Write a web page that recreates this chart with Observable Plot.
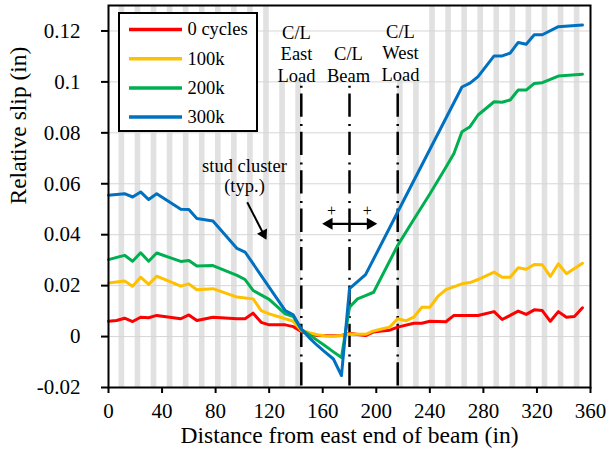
<!DOCTYPE html>
<html>
<head>
<meta charset="utf-8">
<script src="https://cdn.jsdelivr.net/npm/d3@7"></script>
<script src="https://cdn.jsdelivr.net/npm/@observablehq/plot@0.6"></script>
<style>
  html, body { margin: 0; padding: 0; background: #fff; }
  #chart svg { display: block; font-family: "Liberation Serif", "Times New Roman", serif; }
  #chart svg text { font-family: "Liberation Serif", "Times New Roman", serif; }
</style>
</head>
<body>
<div id="chart"></div>
<script>
// Relative slip along the beam after 0, 100k, 200k and 300k load cycles
const seriesNames = ["0 cycles", "100k", "200k", "300k"];
const seriesColors = ["#ff0000", "#ffc000", "#00b050", "#0070c0"];

const slip0X = [0, 6, 12, 18, 24, 30, 36, 54, 60, 66, 78, 96, 102, 108, 114, 120, 132, 138, 144, 150, 156, 168, 174, 180, 186, 192, 198, 204, 210, 216, 228, 234, 240, 252, 258, 276, 288, 294, 300, 306, 312, 318, 324, 330, 336, 342, 348, 354];
const slip0Y = [0.0060, 0.0063, 0.0072, 0.0059, 0.0076, 0.0074, 0.0083, 0.0070, 0.0085, 0.0063, 0.0076, 0.0070, 0.0070, 0.0092, 0.0056, 0.0046, 0.0046, 0.0039, 0.0020, 0.0010, 0.0004, 0.0003, 0.0004, 0.0013, 0.0008, 0.0004, 0.0018, 0.0022, 0.0025, 0.0037, 0.0052, 0.0052, 0.0060, 0.0058, 0.0083, 0.0083, 0.0098, 0.0067, 0.0083, 0.0100, 0.0087, 0.0105, 0.0102, 0.0060, 0.0098, 0.0076, 0.0079, 0.0113];

const slip100X = [0, 12, 18, 24, 30, 36, 54, 60, 66, 78, 96, 108, 114, 120, 132, 138, 144, 150, 156, 162, 168, 174, 180, 192, 198, 204, 210, 216, 222, 228, 234, 240, 246, 252, 264, 270, 276, 288, 294, 300, 306, 312, 318, 324, 330, 336, 342, 354];
const slip100Y = [0.0210, 0.0218, 0.0198, 0.0233, 0.0205, 0.0237, 0.0198, 0.0207, 0.0184, 0.0188, 0.0155, 0.0148, 0.0102, 0.0089, 0.0070, 0.0060, 0.0024, 0.0015, 0.0007, 0.0002, 0.0001, 0.0004, 0.0010, 0.0009, 0.0022, 0.0030, 0.0037, 0.0070, 0.0062, 0.0076, 0.0115, 0.0115, 0.0158, 0.0184, 0.0207, 0.0212, 0.0224, 0.0253, 0.0233, 0.0233, 0.0270, 0.0264, 0.0283, 0.0282, 0.0236, 0.0286, 0.0247, 0.0288];

const slip200X = [0, 12, 18, 24, 30, 36, 54, 60, 66, 78, 96, 102, 108, 120, 132, 138, 144, 150, 156, 162, 168, 174, 180, 186, 192, 198, 216, 228, 240, 252, 258, 264, 270, 276, 288, 294, 300, 306, 312, 318, 324, 336, 354];
const slip200Y = [0.0302, 0.0319, 0.0296, 0.0329, 0.0296, 0.0328, 0.0295, 0.0299, 0.0277, 0.0279, 0.0240, 0.0224, 0.0181, 0.0146, 0.0089, 0.0079, 0.0028, 0.0007, -0.0015, -0.0037, -0.0060, -0.0082, 0.0115, 0.0148, 0.0161, 0.0174, 0.0358, 0.0460, 0.0560, 0.0665, 0.0719, 0.0804, 0.0824, 0.0870, 0.0922, 0.0920, 0.0929, 0.0968, 0.0968, 0.0994, 0.0997, 0.1023, 0.1030];

const slip300X = [0, 12, 18, 24, 30, 36, 54, 60, 66, 78, 96, 102, 132, 138, 144, 150, 156, 162, 168, 174, 180, 192, 216, 264, 270, 276, 288, 294, 300, 306, 312, 318, 324, 336, 354];
const slip300Y = [0.0555, 0.0561, 0.0548, 0.0568, 0.0538, 0.0561, 0.0500, 0.0499, 0.0464, 0.0454, 0.0346, 0.0332, 0.0102, 0.0085, 0.0030, -0.0005, -0.0035, -0.0062, -0.0088, -0.0153, 0.0188, 0.0243, 0.0489, 0.0980, 0.0995, 0.1021, 0.1102, 0.1102, 0.1113, 0.1155, 0.1148, 0.1185, 0.1185, 0.1217, 0.1223];

// Stud cluster locations (shaded bands) and load / beam centerlines
const studClusters = [10, 22, 34, 46, 58, 70, 82, 94, 106, 118, 130, 142, 218, 230, 242, 254, 266, 278, 290, 302, 314, 326, 338, 350];
const centerLines = [144, 180, 216];

const xTicks = [0, 40, 80, 120, 160, 200, 240, 280, 320, 360];
const yTicks = [-0.02, 0, 0.02, 0.04, 0.06, 0.08, 0.1, 0.12];

const seriesX = [slip0X, slip100X, slip200X, slip300X];
const seriesY = [slip0Y, slip100Y, slip200Y, slip300Y];
const rows = [];
seriesNames.forEach((name, s) => {
  seriesX[s].forEach((x, i) => rows.push({series: name, x, y: seriesY[s][i]}));
});

// Frame geometry
const W = 616, H = 456, mL = 108, mR = 26, mT = 5, mB = 69;
const X0 = 0, X1 = 360, Y0 = -0.02, Y1 = 0.13;
// Convert pixel placements of annotations into data coordinates
const px = p => X0 + (p - mL) * (X1 - X0) / (W - mL - mR);
const py = p => Y1 - (p - mT) * (Y1 - Y0) / (H - mT - mB);

const serif = "'Liberation Serif', 'Times New Roman', serif";
const legendRowY = i => py(29 + i * 29.2);
const txt = {fill: "black", fontFamily: serif};

const chart = Plot.plot({
  width: W,
  height: H,
  marginLeft: mL,
  marginRight: mR,
  marginTop: mT,
  marginBottom: mB,
  style: {fontFamily: serif, color: "black", background: "white"},
  x: {domain: [X0, X1]},
  y: {domain: [Y0, Y1]},
  color: {domain: seriesNames, range: seriesColors},
  marks: [
    // stud cluster bands
    Plot.rect(studClusters, {x1: d => d - 2.1, x2: d => d + 2.1, y1: () => Y0, y2: () => Y1, fill: "#e1e1e1"}),
    // blank area behind the centerline labels
    Plot.rect([0], {x1: () => px(271), x2: () => px(428), y1: () => py(80), y2: () => Y1, fill: "white"}),
    // horizontal gridlines
    Plot.ruleY(yTicks.filter(v => v > Y0), {stroke: "#d6d6d6", strokeWidth: 1}),
    // dash-dot centerlines
    Plot.ruleX(centerLines, {y1: () => py(85.7), y2: () => Y0, stroke: "black", strokeWidth: 2.5, strokeDasharray: "2,5.7,23.3,7.4"}),
    // slip profiles
    Plot.line(rows, {x: "x", y: "y", z: "series", stroke: "series", strokeWidth: 3, strokeLinejoin: "round"}),
    Plot.frame({stroke: "black", strokeWidth: 2}),
    Plot.axisX({ticks: xTicks, tickSize: 6, tickPadding: 10, fontSize: 21, fontFamily: serif, strokeWidth: 2, label: null, tickFormat: d => String(d)}),
    Plot.axisY({ticks: yTicks, tickSize: 7, tickPadding: 21, fontSize: 21, fontFamily: serif, strokeWidth: 2, label: null, tickFormat: d => String(+d.toFixed(2))}),
    // axis titles
    Plot.text(["Relative slip (in)"], {...txt, frameAnchor: "left", dx: -90, dy: 8, rotate: -90, fontSize: 23.5}),
    Plot.text(["Distance from east end of beam (in)"], {...txt, frameAnchor: "bottom", dy: 55, fontSize: 23.5}),
    // legend
    Plot.rect([0], {x1: () => px(119), x2: () => px(257), y1: () => py(131), y2: () => py(13), fill: "white", stroke: "black", strokeWidth: 2}),
    Plot.ruleY(seriesNames, {y: (d, i) => legendRowY(i), x1: () => px(129), x2: () => px(182), stroke: d => d, strokeWidth: 3.5}),
    Plot.text(seriesNames, {...txt, x: () => px(187), y: (d, i) => legendRowY(i), text: d => d, textAnchor: "start", fontSize: 18.5}),
    // centerline labels
    Plot.text(["C/L\nEast\nLoad"], {...txt, x: () => px(296), y: () => py(23), text: d => d, lineAnchor: "top", lineHeight: 1.16, fontSize: 18.5}),
    Plot.text(["C/L\nBeam"], {...txt, x: () => px(348), y: () => py(44.5), text: d => d, lineAnchor: "top", lineHeight: 1.16, fontSize: 18.5}),
    Plot.text(["C/L\nWest\nLoad"], {...txt, x: () => px(400), y: () => py(22), text: d => d, lineAnchor: "top", lineHeight: 1.16, fontSize: 18.5}),
    // stud cluster callout
    Plot.text(["stud cluster\n(typ.)"], {...txt, x: () => px(244), y: () => py(157), text: d => d, lineAnchor: "top", lineHeight: 1.08, fontSize: 18.5}),
    Plot.link([0], {x1: () => px(246.7), y1: () => py(201.7), x2: () => px(263), y2: () => py(233.5), stroke: "black", strokeWidth: 2}),
    Plot.dot([0], {x: () => px(263), y: () => py(233.5), symbol: "triangle", r: 4.2, fill: "black", stroke: "none", rotate: 153}),
    // slip direction arrow
    Plot.link([0], {x1: () => px(328.6), y1: () => py(223.3), x2: () => px(369.8), y2: () => py(223.3), stroke: "black", strokeWidth: 2.3}),
    Plot.dot([0], {x: () => px(328.6), y: () => py(223.3), symbol: "triangle", r: 4.46, fill: "black", stroke: "none", rotate: 270}),
    Plot.dot([0], {x: () => px(369.8), y: () => py(223.3), symbol: "triangle", r: 4.46, fill: "black", stroke: "none", rotate: 90}),
    Plot.text(["+", "+"], {...txt, x: (d, i) => px(i === 0 ? 331 : 366.7), y: () => py(210), text: d => d, fontSize: 16})
  ]
});

document.getElementById("chart").appendChild(chart);
</script>
</body>
</html>
